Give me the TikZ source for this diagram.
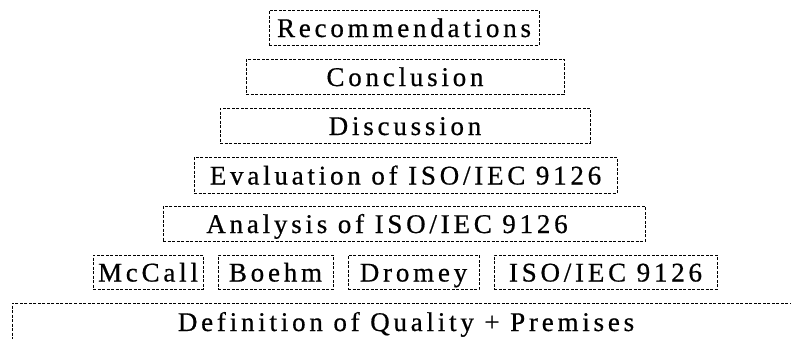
\documentclass[tikz,border=0pt]{standalone}
\usepackage{fontspec}
\newfontfamily\tierfont{Liberation Serif}[LetterSpace=14, FakeBold=0.6]
\begin{document}
\begin{tikzpicture}[x=1pt,y=-1pt,
  tier/.style={draw, dash pattern=on 3pt off 1.5pt, line width=1pt,
    inner sep=0pt, minimum height=35pt, text height=19pt, text depth=0pt,
    font=\tierfont\fontsize{27}{30}\selectfont},
]
\clip (0,0) rectangle (791,338);
\useasboundingbox (0,0) rectangle (791,338);

% pyramid of tiers, top to bottom
\node[tier, minimum width=270pt] (rec)  at (404,27.5) {Recommendations};
\node[tier, minimum width=318pt] (conc) at (405,76.5) {Conclusion};
\node[tier, minimum width=370pt] (disc) at (405,125.5) {Discussion};
\node[tier, minimum width=423pt, minimum height=36pt] (eval) at (405.5,175) {Evaluation of ISO/IEC 9126};
\node[tier, minimum width=482pt] (anal) at (404,223.5) {\hspace*{-34pt}Analysis of ISO/IEC 9126};

% the four quality models
\node[tier, minimum width=110pt, minimum height=34pt] (mccall) at (148,272) {McCall};
\node[tier, minimum width=115pt, minimum height=34pt] (boehm)  at (275.5,272) {Boehm};
\node[tier, minimum width=131pt, minimum height=34pt] (dromey) at (413.5,272) {Dromey};
\node[tier, minimum width=223pt, minimum height=34pt] (iso)    at (605.5,272) {ISO/IEC 9126};

% foundation, running past the lower and right edges
\node[tier, minimum width=788pt, minimum height=46pt, text height=10pt] (defn) at (406,326) {Definition of Quality + Premises};
\end{tikzpicture}
\end{document}
